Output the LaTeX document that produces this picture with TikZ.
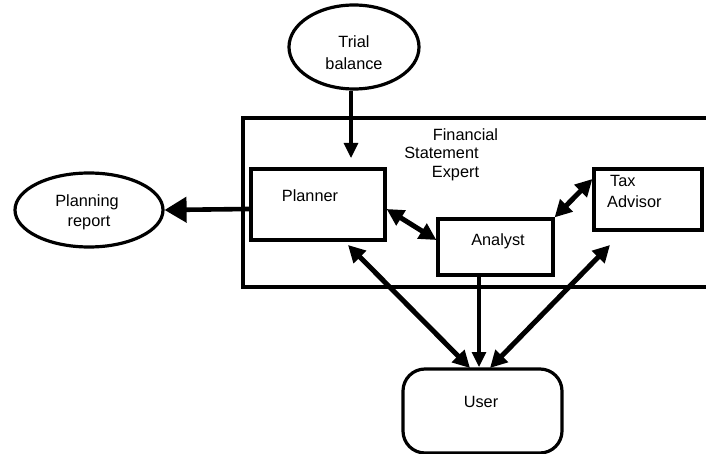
\documentclass[tikz,border=0pt]{standalone}
\usepackage{fontspec}
\setmainfont{Liberation Sans}
\usetikzlibrary{shapes.geometric, arrows.meta}
\begin{document}
\begin{tikzpicture}[x=1pt,y=-1pt,
  txt/.style={anchor=base, inner sep=0pt, font=\fontsize{16.3}{19}\selectfont},
  boxshape/.style={draw, line width=3.2pt, inner sep=0pt},
  oval/.style={ellipse, draw, line width=3.2pt, inner sep=0pt},
  thickarrow/.style={line width=4.6pt, -{Triangle[length=22pt,width=25pt]}},
  dblarrow/.style={line width=5pt, {Triangle[length=17pt,width=17pt]}-{Triangle[length=17pt,width=17pt]}},
  thinarrow/.style={line width=3.2pt, -{Triangle[length=15pt,width=14pt]}}
]
\useasboundingbox (0,0) rectangle (706,454);
\fill[white] (0,0) rectangle (706,454);

% frame of the Financial Statement Expert
\draw[line width=3.2pt] (708,118) -- (243,118) -- (243,287) -- (708,287);
\node[txt] (fin1) at (465.5,141) {Financial};
\node[txt] (fin2) at (441.5,159) {Statement};
\node[txt] (fin3) at (455.5,178) {Expert};

% nodes
\node[oval, minimum width=130pt, minimum height=84pt] (trial) at (354,47) {};
\node[txt] (trialA) at (354,48) {Trial};
\node[txt] (trialB) at (354,70) {balance};

\node[oval, minimum width=148pt, minimum height=74pt] (report) at (89,210) {};
\node[txt] (reportA) at (87,207) {Planning};
\node[txt] (reportB) at (89,227) {report};

\node[boxshape, minimum width=134pt, minimum height=71pt] (planner) at (318,204.5) {};
\node[txt] (plannerT) at (310,202) {Planner};

\node[boxshape, minimum width=115pt, minimum height=56pt] (analyst) at (495.5,247) {};
\node[txt] (analystT) at (498,246) {Analyst};

\node[boxshape, minimum width=108pt, minimum height=61pt] (tax) at (648,199.5) {};
\node[txt, anchor=base west] (taxA) at (610,187) {Tax};
\node[txt, anchor=base west] (taxB) at (607,208) {Advisor};

\node[draw, line width=3.2pt, rounded corners=22pt, minimum width=159pt, minimum height=84pt, inner sep=0pt] (user) at (482.5,411) {};
\node[txt] (userT) at (481,407) {User};

% free ends
\coordinate (trialEnd) at (351,158);
\coordinate (pLow) at (348,245);
\coordinate (tLow) at (610,245);
\coordinate (uL) at (470,368);
\coordinate (uM) at (479,367);
\coordinate (uR) at (490,368);
\coordinate (aM) at (479,275);

% connectors
\draw[thinarrow] (trial.south -| trialEnd) -- (trialEnd);
\draw[thickarrow] ([yshift=-4.5pt]planner.west) -- (report.east);
\draw[dblarrow] ([yshift=-4.5pt]planner.east) -- ([yshift=7pt]analyst.west);
\draw[dblarrow] (analyst.north east) -- ([yshift=20.5pt]tax.west);
\draw[dblarrow] (pLow) -- (uL);
\draw[dblarrow] (tLow) -- (uR);
\draw[thinarrow] (aM) -- (uM);
\end{tikzpicture}
\end{document}
